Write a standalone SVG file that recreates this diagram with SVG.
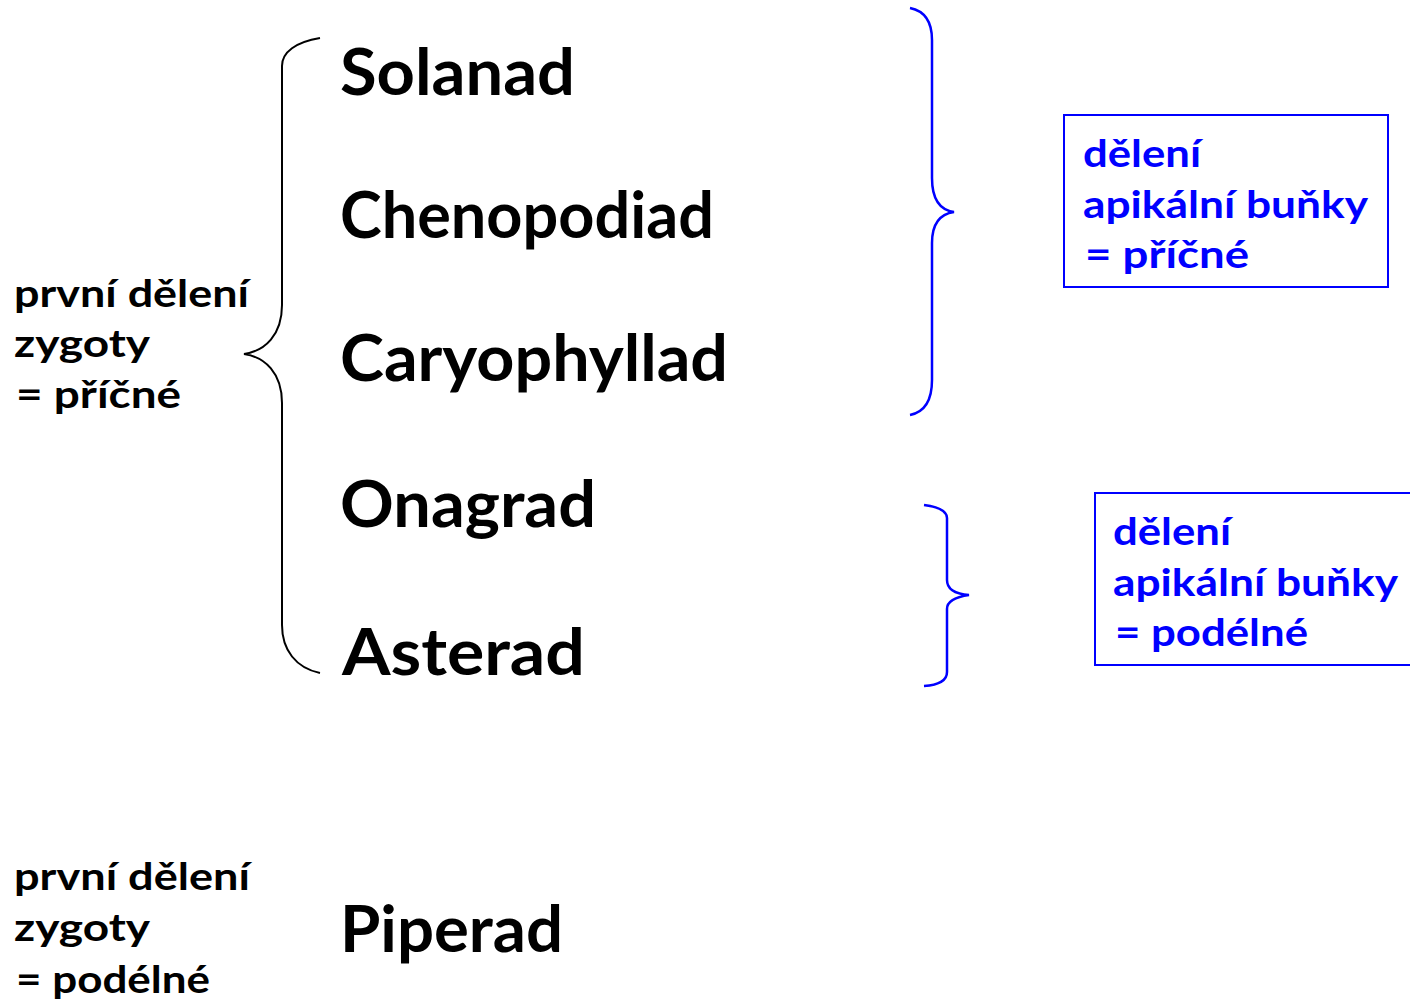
<svg xmlns="http://www.w3.org/2000/svg" width="1410" height="1003" viewBox="0 0 1410 1003">
<style>
.big{font-family:Lato,"Open Sans","Liberation Sans",sans-serif;font-weight:700;font-size:65px;fill:#000}
.sm{font-family:Lato,"Open Sans","Liberation Sans",sans-serif;font-weight:700;font-size:38px;fill:#000}
.bl{font-family:Lato,"Open Sans","Liberation Sans",sans-serif;font-weight:700;font-size:38px;fill:#0000ff}
.box{fill:#fff;stroke:#0000ff;stroke-width:2}
.brk{fill:none;stroke:#000;stroke-width:2}
.brkb{fill:none;stroke:#0000ff;stroke-width:2.5}
</style>
<rect width="1410" height="1003" fill="#fff"/>
<g id="connectors">
<path class="brk" d="M320,38 C296,42 282,52 282,66 L282,305 C282,335 265,351 244,354 C265,357 282,373 282,403 L282,625 C282,650 296,668 320,673"/>
<path class="brkb" d="M910,8 C925,11 932,22 932,40 L932,178 C932,200 940,210 954,212 C940,214 932,224 932,243 L932,380 C932,400 925,412 910,415"/>
<path class="brkb" d="M924,505 C939,507 947,511 947,518 L947,580 C947,589 955,594 969,595 C955,597 947,601 947,609 L947,672 C947,680 939,685 924,686"/>
</g>
<g id="left-top">
<text class="sm" x="14" y="307" textLength="235" lengthAdjust="spacingAndGlyphs">první dělení</text>
<text class="sm" x="14" y="357" textLength="136" lengthAdjust="spacingAndGlyphs">zygoty</text>
<text class="sm" x="16" y="408" textLength="165" lengthAdjust="spacingAndGlyphs">= příčné</text>
</g>
<g id="solanad"><text class="big" x="340" y="95" textLength="235" lengthAdjust="spacingAndGlyphs">Solanad</text></g>
<g id="chenopodiad"><text class="big" x="340" y="238" textLength="374" lengthAdjust="spacingAndGlyphs">Chenopodiad</text></g>
<g id="caryophyllad"><text class="big" x="340" y="381" textLength="388" lengthAdjust="spacingAndGlyphs">Caryophyllad</text></g>
<g id="onagrad"><text class="big" x="340" y="527" textLength="256" lengthAdjust="spacingAndGlyphs">Onagrad</text></g>
<g id="asterad"><text class="big" x="342" y="675" textLength="243" lengthAdjust="spacingAndGlyphs">Asterad</text></g>
<g id="box-pricne">
<rect class="box" x="1064" y="115" width="324" height="172"/>
<text class="bl" x="1083" y="167" textLength="118" lengthAdjust="spacingAndGlyphs">dělení</text>
<text class="bl" x="1083" y="218" textLength="285" lengthAdjust="spacingAndGlyphs">apikální buňky</text>
<text class="bl" x="1085" y="268" textLength="164" lengthAdjust="spacingAndGlyphs">= příčné</text>
</g>
<g id="box-podelne">
<rect class="box" x="1095" y="493" width="330" height="172"/>
<text class="bl" x="1113" y="545" textLength="118" lengthAdjust="spacingAndGlyphs">dělení</text>
<text class="bl" x="1113" y="596" textLength="285" lengthAdjust="spacingAndGlyphs">apikální buňky</text>
<text class="bl" x="1115" y="646" textLength="193" lengthAdjust="spacingAndGlyphs">= podélné</text>
</g>
<g id="left-bottom">
<text class="sm" x="14" y="890" textLength="236" lengthAdjust="spacingAndGlyphs">první dělení</text>
<text class="sm" x="14" y="941" textLength="136" lengthAdjust="spacingAndGlyphs">zygoty</text>
<text class="sm" x="16" y="993" textLength="194" lengthAdjust="spacingAndGlyphs">= podélné</text>
</g>
<g id="piperad"><text class="big" x="340" y="952" textLength="223" lengthAdjust="spacingAndGlyphs">Piperad</text></g>
</svg>
